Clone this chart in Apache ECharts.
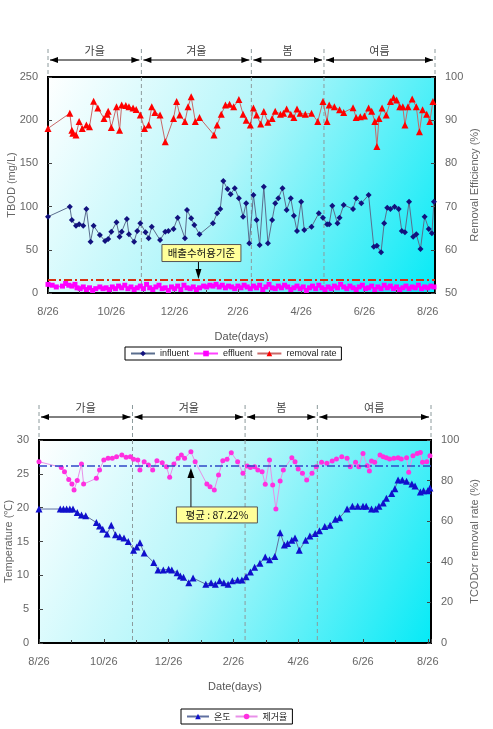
<!DOCTYPE html>
<html><head><meta charset="utf-8">
<script src="https://cdn.jsdelivr.net/npm/echarts@6/dist/echarts.min.js"></script>
<style>html,body{margin:0;padding:0;background:#fff}#c{width:493px;height:729px}</style>
</head><body><div id="c"></div>
<script>
// ---------- data ----------
const xTickLabels = ['8/26','10/26','12/26','2/26','4/26','6/26','8/26'];
const seasonNames = ['가을','겨울','봄','여름'];
const seasonBoundsTop = [0, 90, 196, 266, 373];
const seasonBoundsBottom = [0, 88, 194, 262, 369];
const effluentStandard = 15;
const codAverage = 87.22;

const influent = [[0,88.3],[21,99.9],[23,84.5],[27,77.9],[30,79.5],[34,77.9],[37,97.2],[41,59.4],[44,77.9],[50,67.1],[55,60.2],[58,62.5],[61,71.0],[66,81.8],[69,65.2],[71,71.0],[76,85.6],[78,67.9],[83,59.4],[86,71.8],[89,80.7],[94,70.3],[97,63.3],[100,76.7],[108,61.3],[113,71.0],[116,71.8],[121,74.1],[125,87.2],[132,63.3],[134,96.1],[138,86.5],[141,78.7],[146,67.9],[159,80.7],[163,92.2],[166,97.2],[169,129.6],[173,120.4],[176,114.2],[180,121.2],[184,109.6],[188,88.3],[191,103.8],[194,57.5],[198,113.4],[201,84.5],[204,55.6],[208,123.0],[212,57.5],[216,84.5],[219,103.8],[222,109.6],[226,121.2],[230,96.1],[234,109.6],[237,89.5],[240,71.8],[244,105.7],[247,72.9],[254,76.7],[261,92.2],[265,87.2],[269,79.5],[271,79.5],[274,101.0],[279,80.7],[281,87.2],[285,101.9],[294,97.2],[297,109.6],[302,103.8],[309,113.4],[314,53.6],[317,54.7],[321,47.1],[324,80.7],[327,98.7],[330,97.2],[334,99.9],[338,97.2],[341,71.8],[344,70.3],[348,105.7],[352,65.2],[355,67.9],[359,50.9],[363,88.3],[367,74.1],[370,69.1],[372,105.7]];

const effluent = [[0,10],[4,9],[8,7],[14,8],[17,11],[20,9],[23,8],[26,10],[28,6],[31,5],[34,7],[37,4],[40,6],[43,3],[46,5],[50,7],[53,5],[56,6],[59,4],[62,7],[65,5],[68,8],[71,6],[74,9],[77,5],[80,7],[83,4],[86,6],[89,8],[92,5],[95,10],[98,6],[101,4],[104,7],[107,9],[110,5],[113,6],[116,3],[119,7],[122,5],[125,8],[128,4],[131,9],[134,6],[137,5],[140,7],[143,4],[146,6],[150,8],[153,7],[156,9],[159,8],[162,10],[165,7],[168,9],[171,6],[174,8],[177,7],[180,5],[183,8],[186,6],[189,9],[192,7],[195,5],[198,8],[201,6],[204,9],[207,4],[210,7],[213,10],[216,6],[219,5],[222,8],[225,6],[228,9],[231,7],[234,4],[237,6],[240,8],[243,5],[246,7],[249,3],[252,6],[255,8],[258,5],[261,9],[264,6],[267,4],[270,7],[273,5],[276,8],[279,6],[282,10],[285,7],[288,5],[291,8],[294,6],[297,4],[300,7],[303,9],[306,5],[309,6],[312,8],[315,4],[318,7],[321,5],[324,9],[327,6],[330,8],[333,5],[336,7],[339,4],[342,6],[345,8],[348,5],[351,7],[354,6],[357,9],[360,5],[363,7],[366,6],[369,8],[372,7]];

const removalRate = [[0,88.1],[21,91.6],[23,87.7],[24,87.0],[27,86.6],[30,89.7],[33,88.1],[37,88.9],[40,88.5],[44,94.4],[48,92.8],[54,90.4],[57,91.4],[58,92.1],[61,88.3],[66,93.1],[69,87.7],[71,93.5],[75,93.4],[78,93.1],[82,92.8],[85,92.5],[89,91.2],[93,88.1],[97,88.9],[100,93.1],[103,91.8],[108,91.2],[113,85.0],[121,90.4],[124,94.3],[127,91.2],[132,89.7],[135,93.1],[138,95.4],[142,89.7],[146,90.6],[160,86.6],[163,88.9],[167,91.4],[171,93.5],[175,93.7],[179,93.1],[184,94.8],[188,91.4],[191,90.0],[195,88.9],[198,92.8],[201,91.2],[205,89.1],[208,92.0],[212,89.5],[216,90.4],[219,92.1],[224,91.4],[227,91.6],[230,92.6],[234,91.4],[237,90.6],[240,92.6],[243,91.6],[248,91.4],[254,91.6],[260,89.7],[265,94.3],[269,89.7],[271,93.5],[276,93.1],[281,92.4],[285,91.8],[294,92.9],[297,90.6],[301,90.8],[305,91.0],[309,92.8],[312,92.1],[315,89.7],[317,83.9],[319,90.4],[322,92.8],[326,91.2],[330,94.3],[333,95.2],[336,94.7],[339,93.1],[342,93.1],[344,88.9],[347,93.1],[351,94.9],[355,93.1],[358,87.3],[361,92.4],[365,91.4],[368,89.7],[371,94.3]];

const temperature = [[0,19.8],[20,19.8],[23,19.8],[26,19.8],[29,19.8],[32,19.8],[36,19.3],[40,18.9],[44,18.8],[54,17.8],[57,17.3],[60,16.8],[64,16.1],[68,17.4],[72,16.0],[76,15.7],[80,15.5],[84,15.0],[89,13.7],[92,14.2],[95,14.8],[99,13.3],[108,11.9],[112,10.8],[117,10.8],[122,10.9],[125,10.8],[130,10.4],[133,9.9],[136,9.7],[141,8.9],[145,9.6],[157,8.7],[162,8.9],[166,8.7],[170,9.2],[174,8.9],[178,8.7],[182,9.2],[187,9.3],[191,9.3],[195,9.8],[199,10.5],[203,11.2],[208,11.8],[213,12.7],[217,12.3],[222,12.8],[227,16.3],[231,14.5],[234,14.7],[238,15.2],[241,15.5],[245,13.7],[251,15.2],[255,15.8],[260,16.2],[264,16.6],[269,17.2],[274,17.4],[279,18.3],[283,18.5],[290,19.8],[295,20.2],[300,20.2],[305,20.2],[308,20.2],[313,19.8],[317,19.8],[320,20.2],[324,20.7],[327,21.4],[332,22.1],[335,22.8],[338,24.1],[342,24.1],[346,23.9],[351,23.5],[354,23.2],[359,22.3],[362,22.5],[366,22.5],[368,22.9]];

const codRemoval = [[0,89.3],[21,86.5],[24,84.4],[28,80.6],[31,78.3],[33,75.4],[36,80.0],[40,88.2],[42,78.3],[54,81.1],[57,85.2],[61,90.1],[65,91.0],[69,91.0],[73,91.8],[78,92.6],[82,91.5],[86,91.8],[89,90.5],[93,90.1],[95,85.2],[99,89.3],[103,87.7],[107,85.2],[111,89.8],[116,88.8],[120,86.8],[123,81.6],[127,88.2],[131,91.0],[134,92.6],[137,91.0],[143,94.2],[147,89.3],[158,78.3],[161,77.0],[165,75.4],[169,82.8],[173,89.8],[177,90.5],[181,93.7],[187,89.3],[192,83.6],[196,87.2],[199,86.5],[203,86.8],[206,85.2],[210,84.4],[213,78.2],[217,90.1],[220,77.8],[223,66.0],[227,79.8],[230,85.2],[238,91.3],[241,89.3],[244,85.7],[248,83.6],[252,80.3],[257,83.6],[261,86.8],[266,89.0],[271,88.5],[276,89.7],[280,90.6],[285,91.8],[290,91.0],[293,86.8],[298,89.0],[301,86.8],[305,93.4],[309,87.3],[311,84.7],[313,89.7],[316,89.0],[321,92.6],[324,91.8],[327,91.3],[330,90.6],[334,91.0],[338,91.3],[341,90.6],[346,91.3],[348,84.1],[352,92.3],[356,93.4],[359,93.9],[361,89.0],[365,89.3],[368,92.3]];

// ---------- chart ----------
const krFont = "'Noto Sans CJK KR', sans-serif";
const latFont = "'Liberation Sans', Arial, sans-serif";
const chart = echarts.init(document.getElementById('c'), null, {renderer: 'canvas'});
const tickInterval = 61;
const gridBg = {type:'linear', x:0, y:0, x2:1, y2:1, colorStops:[
  {offset:0, color:'#ffffff'}, {offset:0.45, color:'#b4f6fa'}, {offset:1, color:'#05eaf6'}]};

function xAxisCfg(gi, max) {
  return {
    type:'value', gridIndex:gi, min:0, max:max, interval:tickInterval,
    name:'Date(days)', nameLocation:'middle', nameGap:38, nameMoveOverlap:false,
    nameTextStyle:{color:'#555', fontSize:11, fontFamily:latFont},
    axisLine:{show:true, lineStyle:{color:'#000', width:2}},
    axisTick:{show:true, inside:true, length:4, lineStyle:{color:'#444'}},
    minorTick:{show:true, splitNumber:2, length:3, lineStyle:{color:'#444'}},
    splitLine:{show:false},
    axisLabel:{color:'#666', fontSize:11, fontFamily:latFont, margin:13, showMaxLabel:false,
      formatter: v => (v % tickInterval === 0 && xTickLabels[v / tickInterval] !== undefined) ? xTickLabels[v / tickInterval] : ''}
  };
}
function yAxisCfg(gi, pos, min, max, interval, name, gap) {
  return {
    type:'value', gridIndex:gi, position:pos, min:min, max:max, interval:interval,
    name:name, nameLocation:'middle', nameGap:gap, nameRotate:90, nameMoveOverlap:false,
    nameTextStyle:{color:'#666', fontSize:11, fontFamily:latFont},
    axisLine:{show:true, lineStyle:{color:'#000', width:2}},
    axisTick:{show:true, inside:true, length:4, lineStyle:{color:'#444'}},
    splitLine:{show:false},
    axisLabel:{color:'#666', fontSize:11, fontFamily:latFont, margin:10}
  };
}

const option = {
  animation:false,
  backgroundColor:'#fff',
  grid:[
    {left:48, right:58, top:77, height:216, show:true, backgroundColor:gridBg, borderColor:'#000', borderWidth:2, outerBoundsMode:'none'},
    {left:39, right:62, top:440, height:203, show:true, backgroundColor:gridBg, borderColor:'#000', borderWidth:2, outerBoundsMode:'none'}
  ],
  xAxis:[ xAxisCfg(0, seasonBoundsTop[4]), xAxisCfg(1, seasonBoundsBottom[4]) ],
  yAxis:[
    yAxisCfg(0,'left',0,250,50,'TBOD (mg/L)',31),
    yAxisCfg(0,'right',50,100,10,'Removal Efficiency (%)',34),
    yAxisCfg(1,'left',0,30,5,'Temperature (℃)',25),
    yAxisCfg(1,'right',0,100,20,'TCODcr removal rate (%)',38)
  ],
  legend:[
    {data:['influent','effluent','removal rate'], left:125, top:347, orient:'horizontal',
     itemWidth:24, itemHeight:7, itemGap:4, padding:[2,5], borderColor:'#000', borderWidth:1, backgroundColor:'#fff',
     textStyle:{fontSize:9, color:'#222', fontFamily:latFont}},
    {data:['온도','제거율'], left:181, top:709, orient:'horizontal',
     itemWidth:22, itemHeight:7, itemGap:4, padding:[3,5], borderColor:'#000', borderWidth:1, backgroundColor:'#fff',
     textStyle:{fontSize:9, color:'#222', fontFamily:krFont}}
  ],
  series:[
    {name:'influent', type:'line', xAxisIndex:0, yAxisIndex:0, data:influent,
     symbol:'diamond', symbolSize:6, itemStyle:{color:'#12127e'}, lineStyle:{color:'#5a6e8e', width:1}, z:3},
    {name:'effluent', type:'line', xAxisIndex:0, yAxisIndex:0, data:effluent,
     symbol:'rect', symbolSize:5, itemStyle:{color:'#ff00ff'}, lineStyle:{color:'#ff40ff', width:1.5}, z:3,
     markLine:{silent:true, symbol:'none', label:{show:false},
       lineStyle:{color:'#d83010', width:2, type:[8,3,2,3]}, data:[{yAxis:effluentStandard}]}},
    {name:'removal rate', type:'line', xAxisIndex:0, yAxisIndex:1, data:removalRate,
     symbol:'triangle', symbolSize:7, itemStyle:{color:'#ff0000'}, lineStyle:{color:'#c86868', width:1}, z:3},
    {name:'온도', type:'line', xAxisIndex:1, yAxisIndex:2, data:temperature,
     symbol:'triangle', symbolSize:7, itemStyle:{color:'#1010cc'}, lineStyle:{color:'#6070a0', width:1}, z:3},
    {name:'제거율', type:'line', xAxisIndex:1, yAxisIndex:3, data:codRemoval,
     symbol:'circle', symbolSize:5, itemStyle:{color:'#ff30e0'}, lineStyle:{color:'#e890e8', width:1}, z:3,
     markLine:{silent:true, symbol:'none', label:{show:false},
       lineStyle:{color:'#3048c8', width:1.5, type:[8,3,2,3]}, data:[{yAxis:codAverage}]}}
  ]
};
chart.setOption(option);

// ---------- decorations (positions derived from the axes) ----------
function px(xi, yi, pt) { return chart.convertToPixel({xAxisIndex:xi, yAxisIndex:yi}, pt); }

function seasonDecor(xi, yi, bounds, yMaxVal, yMinVal, dashOff, arrowOff, labelOff) {
  const els = [];
  const yTop = px(xi, yi, [0, yMaxVal])[1];
  const yBot = px(xi, yi, [0, yMinVal])[1];
  const xs = bounds.map(b => px(xi, yi, [b, yMinVal])[0]);
  const yA = yTop - arrowOff, yL = yTop - labelOff, yD = yTop - dashOff;
  xs.forEach((x, i) => {
    const inner = i > 0 && i < xs.length - 1;
    els.push({type:'line', silent:true, z:inner ? 1 : 5,
      shape:{x1:x, y1:yD, x2:x, y2:inner ? yBot : yTop},
      style:{stroke:'#8c9a9c', lineWidth:1, lineDash:[4,3]}});
  });
  for (let i = 0; i < xs.length - 1; i++) {
    const a = xs[i] + 2, b = xs[i + 1] - 2;
    els.push({type:'line', silent:true, z:5, shape:{x1:a, y1:yA, x2:b, y2:yA}, style:{stroke:'#000', lineWidth:1}});
    els.push({type:'polygon', silent:true, z:5, shape:{points:[[a, yA], [a + 8, yA - 3], [a + 8, yA + 3]]}, style:{fill:'#000'}});
    els.push({type:'polygon', silent:true, z:5, shape:{points:[[b, yA], [b - 8, yA - 3], [b - 8, yA + 3]]}, style:{fill:'#000'}});
    els.push({type:'text', silent:true, z:5, style:{text:seasonNames[i], x:(xs[i] + xs[i + 1]) / 2, y:yL,
      align:'center', verticalAlign:'middle', textAlign:'center', textVerticalAlign:'middle',
      fontSize:11, fontFamily:krFont, fill:'#444'}});
  }
  return els;
}

function calloutBox(cx, cy, w, h, text) {
  return [
    {type:'rect', silent:true, z:10, shape:{x:cx - w / 2, y:cy - h / 2, width:w, height:h},
     style:{fill:'#ffff99', stroke:'#555', lineWidth:1}},
    {type:'text', silent:true, z:11, style:{text:text, x:cx, y:cy, align:'center', verticalAlign:'middle',
      textAlign:'center', textVerticalAlign:'middle', fontSize:10.5, fontFamily:krFont, fill:'#111'}}
  ];
}

const els = [];
els.push(...seasonDecor(0, 0, seasonBoundsTop, 250, 0, 28, 17, 26));
els.push(...seasonDecor(1, 2, seasonBoundsBottom, 30, 0, 35, 23, 32));

// effluent-standard callout (top)
const a1 = px(0, 0, [145, effluentStandard]);
els.push(...calloutBox(a1[0] + 3, a1[1] - 27, 79, 17, '배출수허용기준'));
els.push({type:'line', silent:true, z:10, shape:{x1:a1[0], y1:a1[1] - 18, x2:a1[0], y2:a1[1] - 8}, style:{stroke:'#000', lineWidth:1}});
els.push({type:'polygon', silent:true, z:10, shape:{points:[[a1[0], a1[1] - 1], [a1[0] - 3, a1[1] - 11], [a1[0] + 3, a1[1] - 11]]}, style:{fill:'#000'}});

// average callout (bottom)
const a2 = px(1, 3, [143, codAverage]);
els.push(...calloutBox(a2[0] + 26, a2[1] + 49, 81, 16, '평균 : 87.22%'));
els.push({type:'line', silent:true, z:10, shape:{x1:a2[0], y1:a2[1] + 41, x2:a2[0], y2:a2[1] + 8}, style:{stroke:'#333', lineWidth:1.2}});
els.push({type:'polygon', silent:true, z:10, shape:{points:[[a2[0], a2[1] + 2], [a2[0] - 3.5, a2[1] + 12], [a2[0] + 3.5, a2[1] + 12]]}, style:{fill:'#000'}});

chart.setOption({graphic:{elements:els}});
</script>
</body></html>
